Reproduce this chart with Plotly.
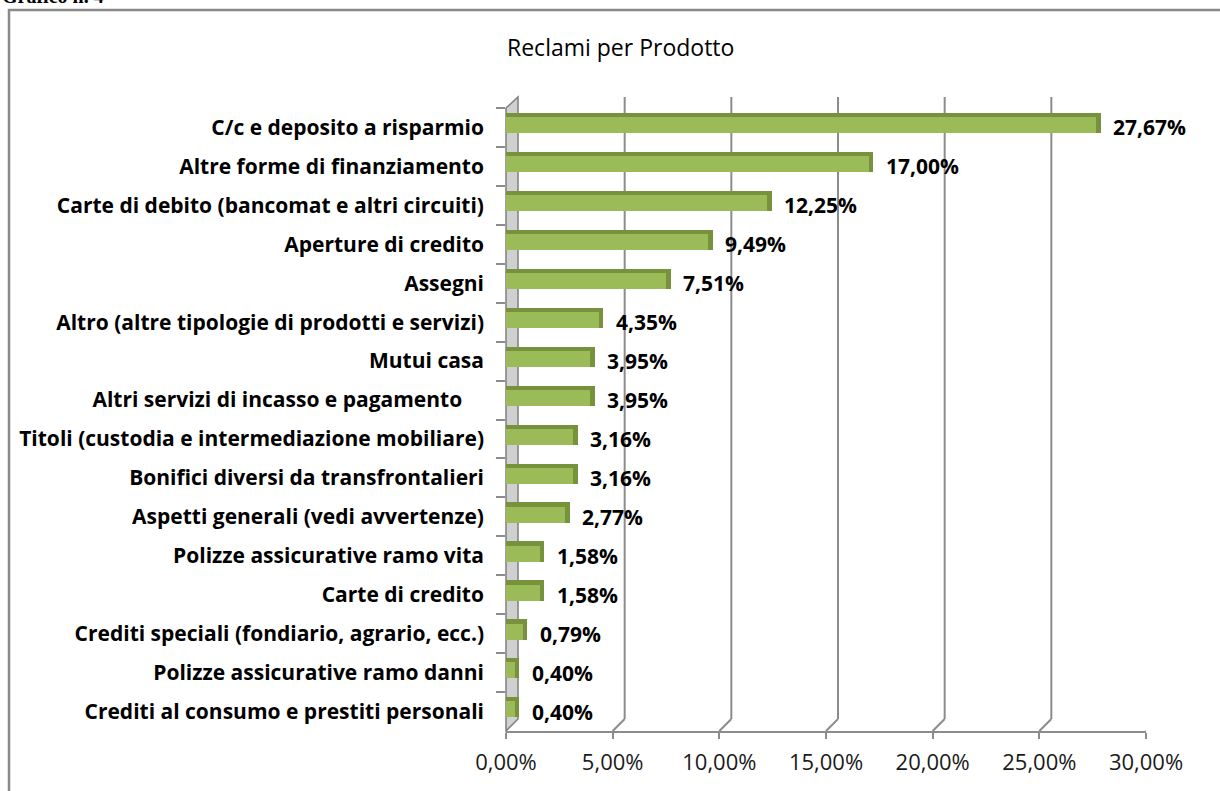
import plotly.graph_objects as go

categories = [
    "C/c e deposito a risparmio",
    "Altre forme di finanziamento",
    "Carte di debito (bancomat e altri circuiti)",
    "Aperture di credito",
    "Assegni",
    "Altro (altre tipologie di prodotti e servizi)",
    "Mutui casa",
    "Altri servizi di incasso e pagamento\u00a0\u00a0\u00a0\u00a0",
    "Titoli (custodia e intermediazione mobiliare)",
    "Bonifici diversi da transfrontalieri",
    "Aspetti generali (vedi avvertenze)",
    "Polizze assicurative ramo vita",
    "Carte di credito",
    "Crediti speciali (fondiario, agrario, ecc.)",
    "Polizze assicurative ramo danni",
    "Crediti al consumo e prestiti personali",
]
values = [27.67, 17.00, 12.25, 9.49, 7.51, 4.35, 3.95, 3.95, 3.16, 3.16, 2.77, 1.58, 1.58, 0.79, 0.40, 0.40]
tick_vals = [0, 5, 10, 15, 20, 25, 30]
tick_text = ["0,00%", "5,00%", "10,00%", "15,00%", "20,00%", "25,00%", "30,00%"]

W, H = 1220, 791
ML, MR, MT, MB = 506, 74, 108, 60
PW, PH = W - ML - MR, H - MT - MB
XMAX = 30.0
DEPTH = 12  # px of 3D depth
px_per_unit = PW / XMAX


def px_x(p):
    return (p - ML) / PW


def px_y(p):
    return (H - MB - p) / PH


def fmt(v):
    return f"{v:.2f}".replace(".", ",") + "%"


FONT = "Open Sans"
GREEN = "#9BBB59"
DARK = "#76923C"
GRID = "#8C8C8C"

fig = go.Figure()
# dark top/end face
fig.add_trace(go.Bar(
    y=categories, x=[v + 4.5 / px_per_unit for v in values], orientation="h",
    width=0.52, offset=-0.37, marker=dict(color=DARK, line=dict(width=0)),
    hoverinfo="skip", showlegend=False,
))
# front face
fig.add_trace(go.Bar(
    y=categories, x=values, orientation="h",
    width=0.41, offset=-0.26, marker=dict(color=GREEN, line=dict(width=0)),
    hoverinfo="skip", showlegend=False,
))

shapes = []
y_back = px_y(H - MB - DEPTH)
y_top = px_y(97)
dx = DEPTH / px_per_unit
# back wall gridlines with floor diagonals
for t in tick_vals[1:]:
    shapes.append(dict(type="line", xref="x", yref="paper", x0=t + dx, x1=t + dx,
                       y0=y_back, y1=y_top, line=dict(color=GRID, width=2), layer="below"))
    shapes.append(dict(type="line", xref="x", yref="paper", x0=t, x1=t + dx,
                       y0=0, y1=y_back, line=dict(color=GRID, width=2), layer="below"))
# left wall
wx = px_x(ML + DEPTH)
shapes.append(dict(type="path", xref="paper", yref="paper",
                   path=f"M 0,0 L 0,{px_y(108)} L {wx},{y_top} L {wx},{y_back} Z",
                   fillcolor="#D0D0D0", line=dict(color="#7F7F7F", width=1.5), layer="below"))
# outer frame
shapes.append(dict(type="path", xref="paper", yref="paper",
                   path=f"M {px_x(9)},{px_y(800)} L {px_x(9)},{px_y(10)} L {px_x(1240)},{px_y(10)}",
                   line=dict(color="#8A8A8A", width=2.5), fillcolor="rgba(0,0,0,0)"))

annotations = []
for c, v in zip(categories, values):
    annotations.append(dict(x=v, y=c, xref="x", yref="y", text=fmt(v), showarrow=False,
                            xanchor="left", yanchor="middle", xshift=15, yshift=0,
                            font=dict(family=FONT, size=21, color="#000000", weight="bold")))
annotations.append(dict(x=px_x(620), y=px_y(47), xref="paper", yref="paper",
                        text="Reclami per Prodotto", showarrow=False,
                        xanchor="center", yanchor="middle",
                        font=dict(family=FONT, size=23, color="#000000")))
annotations.append(dict(x=px_x(0), y=px_y(9), xref="paper", yref="paper",
                        text="Grafico n. 4", showarrow=False,
                        xanchor="left", yanchor="bottom",
                        font=dict(family="Liberation Serif", size=20, color="#000000", weight="bold")))

fig.update_layout(
    width=W, height=H,
    margin=dict(l=ML, r=MR, t=MT, b=MB, pad=0),
    paper_bgcolor="white", plot_bgcolor="rgba(0,0,0,0)",
    barmode="overlay", bargap=0,
    shapes=shapes, annotations=annotations,
    xaxis=dict(range=[0, XMAX], tickvals=tick_vals, ticktext=tick_text,
               showgrid=False, zeroline=False, showline=True, linecolor=GRID, linewidth=2,
               ticks="outside", ticklen=6, tickwidth=2, tickcolor=GRID,
               ticklabelstandoff=5,
               tickfont=dict(family=FONT, size=22, color="#1A1A1A")),
    yaxis=dict(type="category", categoryorder="array", categoryarray=categories,
               autorange="reversed", showgrid=False, zeroline=False, showline=False,
               tickson="boundaries", ticks="outside", ticklen=9, tickwidth=2, tickcolor=GRID,
               ticklabelstandoff=21,
               tickfont=dict(family=FONT, size=21, color="#000000", weight="bold")),
)

fig.write_html("out.html", config={"displayModeBar": False},
               post_script="document.body.style.margin='0px';")
